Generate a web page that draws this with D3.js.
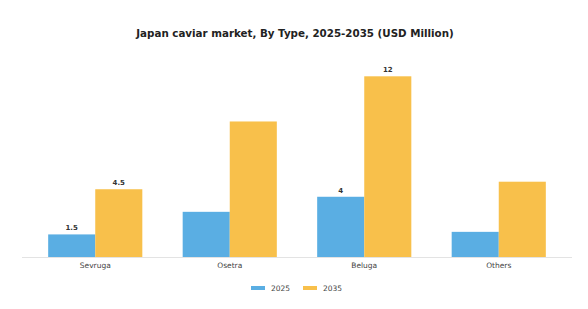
<!DOCTYPE html>
<meta charset="utf-8">
<style>
body { margin: 0; background: #fff; }
.chart text { font-family: "DejaVu Sans", sans-serif; }
.title { font-size: 10.3px; font-weight: bold; fill: #222; text-anchor: middle; }
.value { font-size: 7px; font-weight: bold; fill: #333; text-anchor: middle; }
.xlabel { font-size: 7.5px; fill: #444; text-anchor: middle; }
.legend text { font-size: 7.5px; fill: #444; }
</style>
<svg class="chart" width="588" height="309"></svg>
<script src="https://cdn.jsdelivr.net/npm/d3@7"></script>
<script>

var categories = ["Sevruga", "Osetra", "Beluga", "Others"];
var series = ["2025", "2035"];
var values2025 = [1.5, 3.0, 4, 1.67];
var values2035 = [4.5, 9.0, 12, 5.0];
// only these bars show a value label in the original
var labels2025 = ["1.5", "", "4", ""];
var labels2035 = ["4.5", "", "12", ""];
var colors = ["#5aaee3", "#f8c04b"];

var svg = d3.select(".chart");

var baseY = 257;
var x = d3.scaleBand()
	.domain(categories)
	.range([28, 566])
	.paddingInner(0.3)
	.paddingOuter(0.15);

var xs = d3.scaleBand()
	.domain(series)
	.range([0, x.bandwidth()]);

var y = d3.scaleLinear()
	.domain([0, 12])
	.range([baseY, 76.3]);

svg.append("text")
	.attr("class", "title")
	.attr("x", 295)
	.attr("y", 37)
	.text("Japan caviar market, By Type, 2025-2035 (USD Million)");

var rows = categories.map(function(c, i) {
	return [
		{cat: c, s: "2025", v: values2025[i], label: labels2025[i], color: colors[0]},
		{cat: c, s: "2035", v: values2035[i], label: labels2035[i], color: colors[1]}
	];
});

var groups = svg.selectAll("g.group")
	.data(rows)
  .enter().append("g")
	.attr("class", "group")
	.attr("transform", function(d) { return "translate(" + x(d[0].cat) + ",0)"; });

groups.selectAll("rect")
	.data(function(d) { return d; })
  .enter().append("rect")
	.attr("x", function(d) { return xs(d.s); })
	.attr("y", function(d) { return y(d.v); })
	.attr("width", xs.bandwidth())
	.attr("height", function(d) { return baseY - y(d.v); })
	.attr("fill", function(d) { return d.color; });

groups.selectAll("text.value")
	.data(function(d) { return d; })
  .enter().append("text")
	.attr("class", "value")
	.attr("x", function(d) { return xs(d.s) + xs.bandwidth() / 2; })
	.attr("y", function(d) { return y(d.v) - 4; })
	.text(function(d) { return d.label; });

// baseline
svg.append("line")
	.attr("x1", 22).attr("x2", 572)
	.attr("y1", baseY + 0.5).attr("y2", baseY + 0.5)
	.attr("stroke", "#e3e3e3")
	.attr("stroke-width", 1);

var xAxis = d3.axisBottom(x).tickSize(0).tickPadding(6);
var ax = svg.append("g")
	.attr("transform", "translate(0," + baseY + ")")
	.call(xAxis);
ax.select(".domain").remove();
ax.selectAll("text")
	.attr("class", "xlabel")
	.attr("font-family", null)
	.attr("font-size", null)
	.attr("fill", null);

var legend = svg.append("g").attr("class", "legend");
var legendX = [251, 303];
series.forEach(function(s, i) {
	legend.append("rect")
		.attr("x", legendX[i])
		.attr("y", 286)
		.attr("width", 14)
		.attr("height", 4)
		.attr("fill", colors[i]);
	legend.append("text")
		.attr("x", legendX[i] + 20)
		.attr("y", 291)
		.text(s);
});

</script>
